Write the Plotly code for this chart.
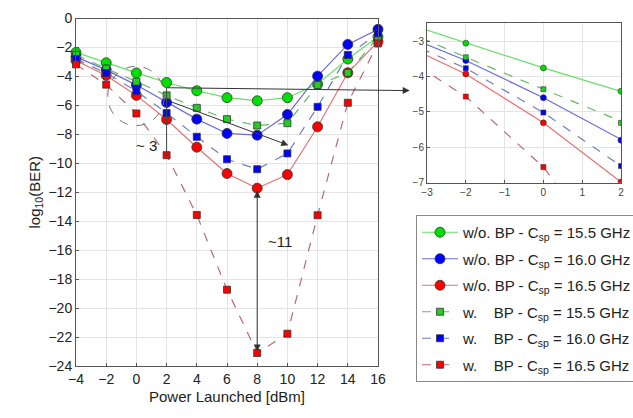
import plotly.graph_objects as go

W, H = 633, 418

power = [-4, -2, 0, 2, 4, 6, 8, 10, 12, 14, 16]
wo_155 = [-2.34, -3.06, -3.76, -4.42, -4.99, -5.47, -5.68, -5.47, -4.53, -2.80, -1.26]
wo_160 = [-2.65, -3.55, -4.60, -5.80, -6.95, -7.94, -8.06, -6.63, -3.98, -1.79, -0.75]
wo_165 = [-2.90, -3.93, -5.31, -6.98, -8.89, -10.71, -11.72, -10.78, -7.48, -3.75, -1.60]
w_155 = [-2.50, -3.46, -4.36, -5.31, -6.17, -6.95, -7.39, -7.23, -4.60, -3.75, -1.30]
w_160 = [-2.80, -3.77, -5.02, -6.53, -8.17, -9.72, -10.41, -9.32, -6.10, -2.52, -1.03]
w_165 = [-3.17, -4.57, -6.56, -9.44, -13.57, -18.73, -23.10, -21.77, -13.59, -5.82, -1.72]

labels = [
    "w/o. BP - C<sub>sp</sub> = 15.5 GHz",
    "w/o. BP - C<sub>sp</sub> = 16.0 GHz",
    "w/o. BP - C<sub>sp</sub> = 16.5 GHz",
    "w.&nbsp;&nbsp;&nbsp; BP - C<sub>sp</sub> = 15.5 GHz",
    "w.&nbsp;&nbsp;&nbsp; BP - C<sub>sp</sub> = 16.0 GHz",
    "w.&nbsp;&nbsp;&nbsp; BP - C<sub>sp</sub> = 16.5 GHz",
]
series = [wo_155, wo_160, wo_165, w_155, w_160, w_165]
line_cols = ["#66e066", "#6a6ae0", "#e87070", "#66b866", "#7080b8", "#b86878"]
mark_cols = ["#00e000", "#0000ff", "#ff0000", "#22cc22", "#0000ff", "#ff0000"]
symbols = ["circle", "circle", "circle", "square", "square", "square"]
dashes = ["solid", "solid", "solid", "dash", "dash", "dash"]

def px(x):
    return x / W

def py(y):
    return 1 - y / H

fig = go.Figure()
for i, s in enumerate(series):
    msize = 10 if symbols[i] == "circle" else 7
    fig.add_trace(go.Scatter(
        x=power, y=s, mode="lines+markers", name=labels[i], legendgroup="g%d" % i,
        line=dict(color=line_cols[i], width=1.2, dash=dashes[i]),
        marker=dict(symbol=symbols[i], size=msize, color=mark_cols[i],
                    line=dict(color="#333333", width=0.8)),
        xaxis="x", yaxis="y", cliponaxis=False))
for i, s in enumerate(series):
    msize = 6 if symbols[i] == "circle" else 5
    fig.add_trace(go.Scatter(
        x=power, y=s, mode="lines+markers", showlegend=False, legendgroup="g%d" % i,
        line=dict(color=line_cols[i], width=1.2, dash=dashes[i]),
        marker=dict(symbol=symbols[i], size=msize, color=mark_cols[i],
                    line=dict(color="#333333", width=0.6)),
        xaxis="x2", yaxis="y2"))

axis_common = dict(showline=True, linecolor="#555555", linewidth=1, mirror=True,
                   showgrid=True, gridcolor="#e4e4e4", gridwidth=1, zeroline=False,
                   ticks="inside", ticklen=3, tickcolor="#555555")

fig.update_layout(
    width=W, height=H,
    margin=dict(l=0, r=0, t=0, b=0, autoexpand=False),
    paper_bgcolor="white", plot_bgcolor="white",
    font=dict(family="Liberation Sans, Arial, sans-serif", size=13, color="#222222"),
    xaxis=dict(domain=[px(76), px(378)], range=[-4, 16], dtick=2, anchor="y",
               tickfont=dict(size=14), **axis_common),
    yaxis=dict(domain=[py(366), py(18.5)], range=[-24, 0], dtick=2, anchor="x",
               tickfont=dict(size=14), **axis_common),
    xaxis2=dict(domain=[px(427), px(621)], range=[-3, 2], dtick=1, anchor="y2",
                tickfont=dict(size=10, color="#444444"), **axis_common),
    yaxis2=dict(domain=[py(182.7), py(23.3)], range=[-7, -2.5], tickvals=[-7, -6, -5, -4, -3],
                anchor="x2", tickfont=dict(size=10, color="#444444"), **axis_common),
    legend=dict(x=px(416), y=py(215), xanchor="left", yanchor="top",
                bgcolor="white", bordercolor="#888888", borderwidth=1,
                font=dict(size=15, color="#222222"), itemwidth=36,
                tracegroupgap=4),
    showlegend=True,
)

# ellipse around x=0
fig.add_shape(type="circle", xref="x", yref="y", x0=-1.9, x1=1.85, y0=-7.4, y1=-3.3,
              line=dict(color="#777777", width=1, dash="dash"))
# vertical line at x=2
fig.add_shape(type="line", xref="x", yref="y", x0=2, x1=2, y0=-4.8, y1=-9.5,
              line=dict(color="#444444", width=1))

arrow_style = dict(showarrow=True, arrowhead=2, arrowsize=1.4, arrowwidth=1,
                   arrowcolor="#333333", text="")
# horizontal arrow to inset
fig.add_annotation(x=18.1, y=-4.98, ax=1.95, ay=-4.78, xref="x", yref="y",
                   axref="x", ayref="y", **arrow_style)
# diagonal arrow
fig.add_annotation(x=10.06, y=-8.75, ax=1.9, ay=-5.6, xref="x", yref="y",
                   axref="x", ayref="y", **arrow_style)
# double vertical arrow at x=8
fig.add_annotation(x=8, y=-23.0, ax=8, ay=-11.8, xref="x", yref="y",
                   axref="x", ayref="y", arrowside="end+start", **arrow_style)

fig.add_annotation(x=0.7, y=-8.8, xref="x", yref="y", text="~ 3", showarrow=False,
                   font=dict(size=15, color="#222222"))
fig.add_annotation(x=9.5, y=-15.4, xref="x", yref="y", text="~11", showarrow=False,
                   font=dict(size=15, color="#222222"))

# axis titles
fig.add_annotation(x=px(227), y=py(407), xref="paper", yref="paper",
                   text="Power Launched [dBm]", showarrow=False,
                   font=dict(size=15, color="#222222"))
fig.add_annotation(x=px(24), y=py(192), xref="paper", yref="paper",
                   text="log<sub>10</sub>(BER)", showarrow=False, textangle=-90,
                   font=dict(size=15, color="#222222"))

fig.write_html("out.html")
